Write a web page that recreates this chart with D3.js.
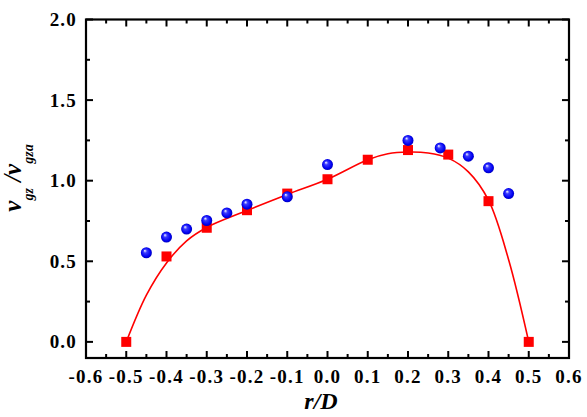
<!DOCTYPE html>
<html>
<head>
<meta charset="utf-8">
<script src="https://cdn.jsdelivr.net/npm/d3@7"></script>
<style>
    body { margin: 0; background: #fff; }
    text { font-family: "Liberation Serif", "Times New Roman", serif; font-weight: bold; }
</style>
</head>
<body>
<div id="chart"></div>
<script>
// Measured data (red squares)
const squareR = [-0.5, -0.4, -0.3, -0.2, -0.1, 0.0, 0.1, 0.2, 0.3, 0.4, 0.5];
const squareV = [0.0, 0.53, 0.708, 0.817, 0.92, 1.009, 1.13, 1.19, 1.162, 0.873, 0.0];

// Measured data (blue spheres)
const sphereR = [-0.45, -0.4, -0.35, -0.3, -0.25, -0.2, -0.1, 0.0, 0.2, 0.28, 0.35, 0.4, 0.45];
const sphereV = [0.553, 0.65, 0.70, 0.753, 0.80, 0.854, 0.90, 1.10, 1.25, 1.203, 1.152, 1.08, 0.92];

// Fitted curve
const fitR = [-0.5, -0.45, -0.4, -0.35, -0.3, -0.2, -0.1, 0.0, 0.1, 0.15, 0.2, 0.25, 0.3, 0.35, 0.4, 0.45, 0.5];
const fitV = [0.0, 0.29, 0.49, 0.627, 0.71, 0.815, 0.915, 1.009, 1.13, 1.167, 1.178, 1.172, 1.14, 1.055, 0.879, 0.51, 0.0];

// Tick labels
const xTicks = [-0.6, -0.5, -0.4, -0.3, -0.2, -0.1, 0.0, 0.1, 0.2, 0.3, 0.4, 0.5, 0.6];
const yTicks = [0.0, 0.5, 1.0, 1.5, 2.0];

const width = 587, height = 417;
const margin = { left: 86, right: 18, top: 19.5, bottom: 59 };

const svg = d3.select("#chart")
    .append("svg")
        .attr("width", width)
        .attr("height", height);

const xScale = d3.scaleLinear()
    .domain([-0.6, 0.6])
    .range([margin.left, width - margin.right]);

const yScale = d3.scaleLinear()
    .domain([-0.1, 2.0])
    .range([height - margin.bottom, margin.top]);

const fmt = d => (d < 0 ? "-" : "") + Math.abs(d).toFixed(1);

// Minor tick values
const xMinor = d3.range(-0.55, 0.6, 0.1);
const yMinor = [0.25, 0.75, 1.25, 1.75];

const x0 = xScale.range()[0], x1 = xScale.range()[1];
const y0 = yScale.range()[0], y1 = yScale.range()[1];

// Frame ticks (all pointing inward)
const tickG = svg.append("g")
    .attr("stroke", "#000")
    .attr("stroke-width", 2);

xTicks.forEach(t => {
    tickG.append("line").attr("x1", xScale(t)).attr("x2", xScale(t)).attr("y1", y0).attr("y2", y0 - 7);
    tickG.append("line").attr("x1", xScale(t)).attr("x2", xScale(t)).attr("y1", y1).attr("y2", y1 + 7);
});
xMinor.forEach(t => {
    tickG.append("line").attr("x1", xScale(t)).attr("x2", xScale(t)).attr("y1", y0).attr("y2", y0 - 4);
    tickG.append("line").attr("x1", xScale(t)).attr("x2", xScale(t)).attr("y1", y1).attr("y2", y1 + 4);
});
yTicks.forEach(t => {
    tickG.append("line").attr("x1", x0).attr("x2", x0 + 7).attr("y1", yScale(t)).attr("y2", yScale(t));
    tickG.append("line").attr("x1", x1).attr("x2", x1 - 7).attr("y1", yScale(t)).attr("y2", yScale(t));
});
yMinor.forEach(t => {
    tickG.append("line").attr("x1", x0).attr("x2", x0 + 4).attr("y1", yScale(t)).attr("y2", yScale(t));
    tickG.append("line").attr("x1", x1).attr("x2", x1 - 4).attr("y1", yScale(t)).attr("y2", yScale(t));
});

// Frame
svg.append("rect")
    .attr("x", x0)
    .attr("y", y1)
    .attr("width", x1 - x0)
    .attr("height", y0 - y1)
    .attr("fill", "none")
    .attr("stroke", "#000")
    .attr("stroke-width", 2.2);

// Tick labels
svg.append("g")
    .selectAll("text")
    .data(xTicks)
    .join("text")
        .attr("x", d => xScale(d))
        .attr("y", y0 + 25)
        .attr("text-anchor", "middle")
        .style("font-size", "19px")
        .style("letter-spacing", "1.2px")
        .text(fmt);

svg.append("g")
    .selectAll("text")
    .data(yTicks)
    .join("text")
        .attr("x", x0 - 9)
        .attr("y", d => yScale(d) + 6.5)
        .attr("text-anchor", "end")
        .style("font-size", "19px")
        .style("letter-spacing", "1.2px")
        .text(fmt);

// Axis titles
svg.append("text")
    .attr("x", 321)
    .attr("y", 409)
    .attr("text-anchor", "middle")
    .style("font-size", "24px")
    .style("font-style", "italic")
    .text("r/D");

const yTitle = svg.append("text")
    .attr("transform", "translate(21, 178) rotate(-90)")
    .attr("text-anchor", "middle")
    .style("font-style", "italic")
    .style("font-size", "25px");
yTitle.append("tspan").text("v");
yTitle.append("tspan").attr("dy", 12).style("font-size", "14px").text("gz");
yTitle.append("tspan").attr("dy", -12).text(" /");
yTitle.append("tspan").text("v");
yTitle.append("tspan").attr("dy", 12).style("font-size", "14px").text("gza");

// Sphere gradient
const grad = svg.append("defs")
    .append("radialGradient")
        .attr("id", "sphere")
        .attr("cx", "50%").attr("cy", "50%").attr("r", "55%")
        .attr("fx", "35%").attr("fy", "30%");
grad.append("stop").attr("offset", "0%").attr("stop-color", "#ffffff");
grad.append("stop").attr("offset", "30%").attr("stop-color", "#3a3aff");
grad.append("stop").attr("offset", "75%").attr("stop-color", "#0000f0");
grad.append("stop").attr("offset", "100%").attr("stop-color", "#0000a8");

// Fit curve
const fitData = fitR.map((r, i) => ({ r: r, v: fitV[i] }));
const line = d3.line()
    .x(d => xScale(d.r))
    .y(d => yScale(d.v))
    .curve(d3.curveCatmullRom.alpha(0.5));

svg.append("path")
    .datum(fitData)
    .attr("d", line)
    .attr("fill", "none")
    .attr("stroke", "#ff0000")
    .attr("stroke-width", 1.6);

// Red squares
const sq = 10;
svg.append("g")
    .selectAll("rect")
    .data(squareR.map((r, i) => ({ r: r, v: squareV[i] })))
    .join("rect")
        .attr("x", d => xScale(d.r) - sq / 2)
        .attr("y", d => yScale(d.v) - sq / 2)
        .attr("width", sq)
        .attr("height", sq)
        .attr("fill", "#ff0000");

// Blue spheres
svg.append("g")
    .selectAll("circle")
    .data(sphereR.map((r, i) => ({ r: r, v: sphereV[i] })))
    .join("circle")
        .attr("cx", d => xScale(d.r))
        .attr("cy", d => yScale(d.v))
        .attr("r", 5.5)
        .attr("fill", "url(#sphere)");
</script>
</body>
</html>
